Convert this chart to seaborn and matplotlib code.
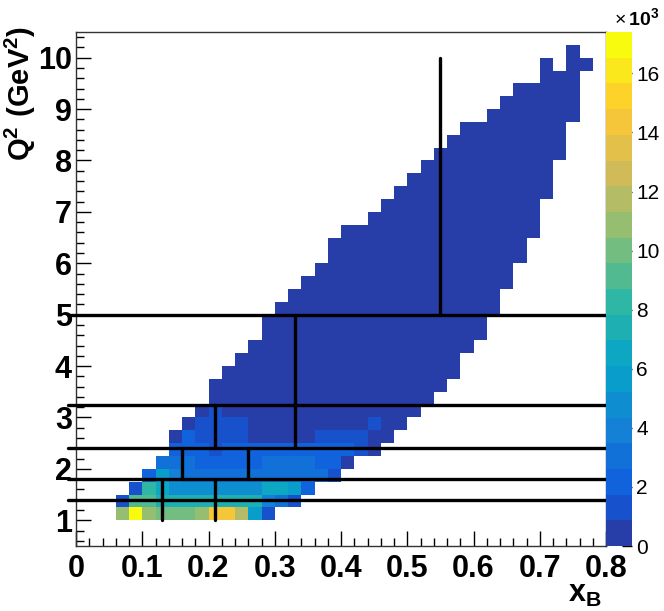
import numpy as np
import matplotlib
matplotlib.use("Agg")
import matplotlib.pyplot as plt
from matplotlib.colors import ListedColormap
from matplotlib.ticker import MultipleLocator, FuncFormatter, FixedLocator
import seaborn as sns

# ---------------- data ----------------
# histogram binning
x_range = (0.0, 0.8)
x_nbins = 40
q2_range = (0.5, 10.5)
q2_nbins = 40
z_max = 17400  # top of the colour scale

# dense rows: Q2 row index (0.25 wide rows starting at 0.5), first x bin, counts
dense_row_index = [2, 3, 4, 5, 6, 7, 8, 9, 10]
dense_row_first = [3, 3, 4, 5, 6, 7, 7, 8, 9]
dense_row_counts = [
    [10900, 17300, 11300, 10000, 10000, 10000, 11200, 14000, 14200, 12000, 5600, 1300],
    [1300, 9500, 9000, 7500, 7000, 7000, 7000, 7200, 7500, 7500, 7500, 4200, 3200, 1300],
    [1500, 8200, 6600, 4600, 4500, 4500, 4500, 4500, 4600, 5000, 6500, 6200, 5900, 2600],
    [2600, 5800, 4000, 3300, 3000, 3000, 3000, 3200, 3200, 3300, 3400, 3400, 3300, 3000, 1000],
    [2800, 3200, 2800, 2600, 2000, 2000, 2200, 2600, 2800, 2800, 2800, 2800, 2600, 1800, 700],
    [2200, 2200, 2200, 1700, 1800, 1800, 1800, 2200, 2200, 2200, 2200, 2200, 2000, 2000, 1200, 600],
    [600, 1800, 1500, 1500, 1400, 1400, 700, 700, 700, 700, 700, 1300, 1300, 1300, 1300, 600, 500],
    [600, 1300, 1300, 1300, 1300, 600, 600, 600, 600, 600, 600, 600, 600, 600, 1200, 500, 500],
    [600, 1200, 600, 600, 600, 600, 600, 600, 600, 600, 600, 600, 600, 600, 600, 600, 500],
]

# sparse rows: every filled cell sits in the lowest colour band
sparse_row_index = list(range(11, 39))
sparse_row_first = [10, 10, 11, 12, 13, 14, 14, 15, 16, 17, 18, 19, 19, 20,
                    22, 23, 24, 25, 26, 27, 28, 29, 31, 32, 33, 35, 35, 37]
sparse_row_last = [26, 27, 28, 28, 29, 30, 30, 31, 31, 32, 32, 33, 33, 34,
                   34, 34, 35, 35, 35, 36, 36, 36, 37, 37, 37, 37, 38, 37]
sparse_count = 400
empty_cells = [(37, 36)]  # (row, x bin) holes inside a row

# bin boundary lines drawn on top
h_lines_q2 = [1.4, 1.8, 2.4, 3.25, 5.0]
v_lines_x = [0.13, 0.21, 0.16, 0.26, 0.21, 0.33, 0.55]
v_lines_q2_lo = [1.0, 1.0, 1.8, 1.8, 2.4, 2.4, 5.0]
v_lines_q2_hi = [1.8, 1.8, 2.4, 2.4, 3.25, 5.0, 10.0]

x_ticks = [0, 0.1, 0.2, 0.3, 0.4, 0.5, 0.6, 0.7, 0.8]
x_tick_labels = ["0", "0.1", "0.2", "0.3", "0.4", "0.5", "0.6", "0.7", "0.8"]
y_ticks = [1, 2, 3, 4, 5, 6, 7, 8, 9, 10]
z_ticks = [0, 2000, 4000, 6000, 8000, 10000, 12000, 14000, 16000]

# ---------------- build cell list ----------------
x_edges = np.linspace(x_range[0], x_range[1], x_nbins + 1)
q2_edges = np.linspace(q2_range[0], q2_range[1], q2_nbins + 1)
x_centers = 0.5 * (x_edges[:-1] + x_edges[1:])
q2_centers = 0.5 * (q2_edges[:-1] + q2_edges[1:])

xs, ys, ws = [], [], []
for r, first, counts in zip(dense_row_index, dense_row_first, dense_row_counts):
    for j, c in enumerate(counts):
        xs.append(x_centers[first + j]); ys.append(q2_centers[r]); ws.append(c)
for r, first, last in zip(sparse_row_index, sparse_row_first, sparse_row_last):
    for b in range(first, last + 1):
        if (r, b) in empty_cells:
            continue
        xs.append(x_centers[b]); ys.append(q2_centers[r]); ws.append(sparse_count)

# ---------------- ROOT kBird palette, 20 contour bands ----------------
stops = [0.0, 0.125, 0.25, 0.375, 0.5, 0.625, 0.75, 0.875, 1.0]
red = [0.2082, 0.0592, 0.0780, 0.0232, 0.1802, 0.5301, 0.8186, 0.9956, 0.9764]
green = [0.1664, 0.3599, 0.5041, 0.6419, 0.7178, 0.7492, 0.7328, 0.7862, 0.9832]
blue = [0.5293, 0.8684, 0.8385, 0.7914, 0.6425, 0.4662, 0.3499, 0.1968, 0.0539]
n_levels = 20
band_colors = []
for i in range(n_levels):
    t = int((i + 0.99) * 255 / n_levels) / 254.0
    band_colors.append((np.interp(t, stops, red), np.interp(t, stops, green),
                        np.interp(t, stops, blue)))
cmap = ListedColormap(band_colors)

# ---------------- figure ----------------
sns.set_style("white")
plt.rcParams["font.family"] = ["Liberation Sans", "DejaVu Sans"]
plt.rcParams["mathtext.fontset"] = "custom"
plt.rcParams["mathtext.bf"] = "Liberation Sans:bold"
plt.rcParams["mathtext.rm"] = "Liberation Sans"
plt.rcParams["text.color"] = "black"
plt.rcParams["xtick.color"] = "black"
plt.rcParams["ytick.color"] = "black"
plt.rcParams["axes.labelcolor"] = "black"

fig = plt.figure(figsize=(6.64, 6.11), dpi=100)
ax = fig.add_axes([76 / 664, 1 - 546 / 611, 530 / 664, 514 / 611])
cax = fig.add_axes([606 / 664, 1 - 546 / 611, 26 / 664, 514 / 611])

sns.histplot(x=xs, y=ys, weights=ws, bins=(x_edges, q2_edges), cmap=cmap,
             vmin=0, vmax=z_max, cbar=True, cbar_ax=cax, ax=ax)

for q in h_lines_q2:
    ax.plot([-0.012, 0.8], [q, q], color="black", lw=2.4, clip_on=False, zorder=5)
for xv, lo, hi in zip(v_lines_x, v_lines_q2_lo, v_lines_q2_hi):
    ax.plot([xv, xv], [lo, hi], color="black", lw=2.4, zorder=5)

ax.set_xlim(*x_range)
ax.set_ylim(*q2_range)
ax.set_xlabel("")
ax.set_ylabel("")
ax.xaxis.set_major_locator(FixedLocator(x_ticks))
ax.set_xticklabels(x_tick_labels)
ax.xaxis.set_minor_locator(MultipleLocator(0.02))
ax.yaxis.set_major_locator(FixedLocator(y_ticks))
ax.set_yticklabels([str(v) for v in y_ticks])
ax.yaxis.set_minor_locator(MultipleLocator(0.2))
ax.tick_params(which="major", direction="in", length=11, width=1, labelsize=22,
               bottom=True, left=True, top=False, right=False,
               colors="black", labelcolor="black")
ax.tick_params(which="minor", direction="in", length=5.5, width=1,
               bottom=True, left=True, top=False, right=False, colors="black")
ax.tick_params(axis="x", which="major", pad=6)
ax.tick_params(axis="y", which="major", pad=3)
for lab in ax.get_xticklabels() + ax.get_yticklabels():
    lab.set_fontweight("bold")
for s in ax.spines.values():
    s.set_visible(True)
    s.set_color("#333333")
    s.set_linewidth(1.0)
ax.grid(False)

cax.set_ylim(0, z_max)
cax.yaxis.set_major_locator(FixedLocator(z_ticks))
cax.yaxis.set_major_formatter(FuncFormatter(lambda v, p: f"{v / 1000:g}"))
cax.tick_params(direction="in", length=7, width=1, labelsize=15, pad=3,
                right=True, left=False, colors="black", labelcolor="black")
for s in cax.spines.values():
    s.set_visible(False)

fig.text(637 / 664, 1 - 18 / 611, r"$\times\,\mathbf{10^{3}}$", ha="center",
         va="center", fontsize=14, color="black")
fig.text(20 / 664, 1 - 26 / 611, r"$\mathbf{Q^{2}\ (GeV^{2})}$", rotation=90,
         ha="center", va="top", fontsize=21, color="black")
fig.text(602 / 664, 1 - 594 / 611, r"$\mathbf{x_{B}}$", ha="right", va="center",
         fontsize=22, color="black")

fig.savefig("out.png", dpi=100)
